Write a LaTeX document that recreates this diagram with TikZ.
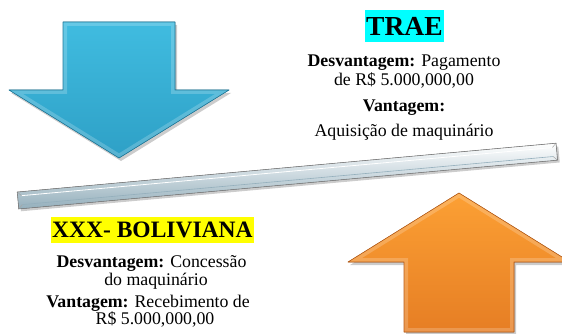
\documentclass[tikz,border=0pt]{standalone}
\usepackage{fontspec}
\setmainfont{Liberation Serif}
\definecolor{blueup}{RGB}{64,188,224}
\definecolor{bluedown}{RGB}{46,160,198}
\definecolor{blueedge}{RGB}{30,122,156}
\definecolor{orangeup}{RGB}{252,160,52}
\definecolor{orangedown}{RGB}{230,126,36}
\definecolor{orangeedge}{RGB}{185,92,22}
\definecolor{barmid}{RGB}{210,230,238}
\definecolor{bardark}{RGB}{148,175,188}
\definecolor{hlcyan}{RGB}{0,255,255}
\definecolor{hlyellow}{RGB}{255,255,0}
\def\arrowdownpath{(63,22)--(175,22)--(175,90)--(229,90)--(119,158)--(9,90)--(63,90)--cycle}
\def\arrowuppath{(404,332)--(404,262)--(348,262)--(459,193)--(570,262)--(514,262)--(514,332)--cycle}
\begin{document}
\begin{tikzpicture}[x=1pt, y=-1pt,
        txt/.style={anchor=base, inner sep=0pt, font=\fontsize{17.8}{19}\selectfont},
        tag/.style={anchor=west, inner xsep=1pt, inner ysep=0pt},
        shadow/.style={fill=black, opacity=0.2},
        bevel/.style={line width=8pt, white, opacity=0.2}]
        \useasboundingbox (0,0) rectangle (562,334);
        \clip (0,0) rectangle (562,334);
        % arrow down (blue)
        \fill[shadow, shift={(2,3)}] \arrowdownpath;
        \fill[top color=blueup, bottom color=bluedown] \arrowdownpath;
        \begin{scope}
            \clip \arrowdownpath;
            \draw[bevel] \arrowdownpath;
        \end{scope}
        \draw[blueedge, line width=0.6pt, line join=round] \arrowdownpath;
        % arrow up (orange)
        \fill[shadow, shift={(2,3)}] \arrowuppath;
        \fill[top color=orangeup, bottom color=orangedown] \arrowuppath;
        \begin{scope}
            \clip \arrowuppath;
            \draw[bevel] \arrowuppath;
        \end{scope}
        \draw[orangeedge, line width=0.6pt, line join=round] \arrowuppath;
        % the bar
        \begin{scope}[shift={(18,200.5)}, rotate=5.18]
            \fill[shadow](2,-5)rectangle++(541,16);
            \fill[top color=white, middle color=barmid, bottom color=bardark](0,-8.5)rectangle(541,8.5);
            \draw[white, line width=0.8pt](4,-4.5)--(537,-4.5);
            \draw[bardark, line width=0.6pt](4,4.5)--(537,4.5);
            \draw[gray!70, line width=0.5pt](0,-8.5)--(4,-4.5)(0,8.5)--(4,4.5)(541,-8.5)--(537,-4.5)(541,8.5)--(537,4.5);
            \draw[gray, line width=0.6pt](0,-8.5)rectangle(541,8.5);
        \end{scope}
        % texts
        \node[tag, fill=hlcyan, minimum height=32, font=\fontsize{27.5}{28}\selectfont\bfseries] (trae) at (365,26) {TRAE\hspace{7pt}};
        \node[txt] (traedes1) at (404,67) {\textbf{Desvantagem:} Pagamento};
        \node[txt] (traedes2) at (404,86) {de R\$ 5.000,000,00};
        \node[txt] (traevan1) at (404,112) {\textbf{Vantagem:}};
        \node[txt] (traevan2) at (404,137) {Aquisição de maquinário};
        \node[tag, fill=hlyellow, minimum height=26, font=\fontsize{23.5}{24}\selectfont\bfseries] (boliviana) at (51,230) {XXX- BOLIVIANA\hspace{7.6pt}};
        \node[txt] (boldes1) at (151.5,267) {\textbf{Desvantagem:} Concessão};
        \node[txt] (boldes2) at (156,285) {do maquinário};
        \node[txt] (bolvan1) at (148,307) {\textbf{Vantagem:} Recebimento de};
        \node[txt] (bolvan2) at (155,324) {R\$ 5.000,000,00};
    \end{tikzpicture}
\end{document}
